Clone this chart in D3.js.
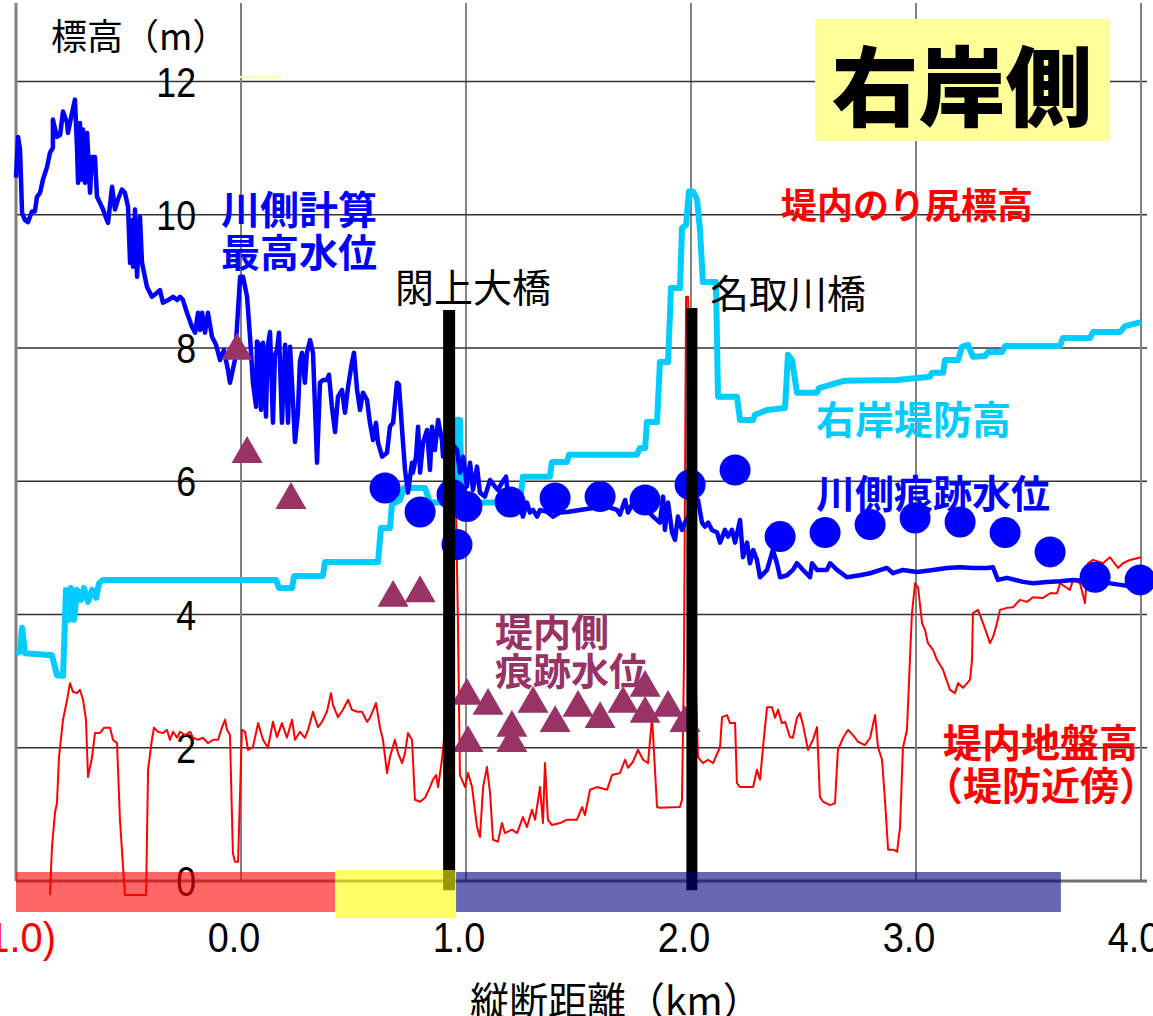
<!DOCTYPE html>
<html>
<head>
<meta charset="utf-8">
<script src="https://cdn.jsdelivr.net/npm/d3@7"></script>
<style>
  body { margin: 0; background: #fff; }
  svg { display: block; }
</style>
</head>
<body>
<div id="chart"></div>
<script>
// 右岸堤防高 [km, m]
var leveeHeight = [
  [-1.000, 3.42], [-0.982, 3.44], [-0.973, 3.80], [-0.960, 3.42], [-0.840, 3.39], [-0.818, 3.09],
  [-0.791, 3.08], [-0.778, 4.37], [-0.764, 3.92], [-0.756, 4.40], [-0.742, 3.92], [-0.729, 4.37],
  [-0.711, 4.22], [-0.698, 4.40], [-0.680, 4.19], [-0.662, 4.37], [-0.644, 4.25], [-0.631, 4.47],
  [-0.613, 4.52], [0.156, 4.52], [0.169, 4.40], [0.227, 4.40], [0.236, 4.58], [0.364, 4.58],
  [0.373, 4.79], [0.609, 4.79], [0.622, 5.30], [0.662, 5.30], [0.671, 5.65], [0.707, 5.72],
  [0.724, 5.90], [0.818, 5.90], [0.840, 5.68], [0.951, 5.68], [0.960, 6.92], [0.973, 6.92],
  [0.982, 5.68], [1.240, 5.68], [1.253, 6.07], [1.373, 6.07], [1.382, 6.29], [1.449, 6.29],
  [1.458, 6.40], [1.760, 6.40], [1.773, 6.50], [1.796, 6.50], [1.804, 6.89], [1.849, 6.89],
  [1.862, 7.79], [1.898, 7.79], [1.911, 8.90], [1.951, 8.90], [1.960, 9.80], [1.978, 9.85],
  [1.991, 10.35], [2.009, 10.35], [2.027, 10.23], [2.040, 9.77], [2.053, 8.99], [2.111, 8.99],
  [2.120, 7.27], [2.204, 7.27], [2.218, 6.92], [2.276, 6.92], [2.284, 7.00], [2.338, 7.07],
  [2.418, 7.10], [2.431, 7.90], [2.449, 7.82], [2.471, 7.33], [2.560, 7.33], [2.569, 7.40],
  [2.684, 7.51], [2.916, 7.52], [3.062, 7.57], [3.071, 7.63], [3.120, 7.63], [3.129, 7.82],
  [3.187, 7.82], [3.204, 8.02], [3.231, 8.05], [3.253, 7.87], [3.307, 7.88], [3.320, 7.94],
  [3.382, 7.94], [3.396, 8.03], [3.640, 8.03], [3.653, 8.15], [3.773, 8.15], [3.787, 8.24],
  [3.907, 8.24], [3.929, 8.33], [4.000, 8.39]
];

// 川側計算最高水位 [km, m]
var calcMaxWater = [
  [-1.000, 10.56], [-0.991, 11.17], [-0.982, 10.98], [-0.973, 10.03], [-0.960, 9.92], [-0.947, 9.89],
  [-0.929, 10.05], [-0.916, 10.05], [-0.907, 10.27], [-0.893, 10.33], [-0.880, 10.53], [-0.862, 10.72],
  [-0.849, 10.93], [-0.836, 11.01], [-0.836, 11.43], [-0.818, 11.17], [-0.804, 11.20], [-0.791, 11.55],
  [-0.773, 11.38], [-0.769, 11.23], [-0.751, 11.53], [-0.738, 11.73], [-0.729, 11.02], [-0.724, 10.48],
  [-0.716, 11.38], [-0.707, 10.53], [-0.702, 11.28], [-0.693, 10.48], [-0.684, 11.23], [-0.671, 10.33],
  [-0.662, 10.87], [-0.649, 10.87], [-0.640, 10.27], [-0.627, 10.18], [-0.613, 10.08], [-0.596, 9.92],
  [-0.591, 9.88], [-0.573, 10.42], [-0.560, 10.08], [-0.547, 10.23], [-0.529, 10.38], [-0.516, 10.33],
  [-0.502, 10.12], [-0.493, 9.28], [-0.484, 9.92], [-0.480, 9.22], [-0.471, 10.08], [-0.462, 9.07],
  [-0.449, 9.97], [-0.440, 9.28], [-0.418, 8.92], [-0.396, 8.77], [-0.373, 8.83], [-0.360, 8.87],
  [-0.347, 8.68], [-0.324, 8.72], [-0.302, 8.77], [-0.284, 8.72], [-0.271, 8.77], [-0.258, 8.72],
  [-0.240, 8.53], [-0.218, 8.32], [-0.204, 8.23], [-0.191, 8.53], [-0.182, 8.27], [-0.173, 8.53],
  [-0.160, 8.23], [-0.147, 8.53], [-0.129, 8.17], [-0.111, 8.05], [-0.093, 7.82], [-0.076, 7.97],
  [-0.058, 7.67], [-0.049, 7.48], [-0.027, 7.82], [-0.004, 9.07], [0.009, 9.07], [0.027, 8.77],
  [0.040, 8.17], [0.053, 7.48], [0.067, 7.12], [0.071, 8.10], [0.076, 8.08], [0.089, 7.07],
  [0.093, 8.05], [0.098, 8.08], [0.111, 6.97], [0.118, 8.00], [0.129, 8.24], [0.142, 6.88],
  [0.151, 7.90], [0.160, 7.97], [0.169, 8.23], [0.182, 6.88], [0.196, 8.05], [0.209, 6.88],
  [0.218, 8.02], [0.231, 7.20], [0.240, 6.59], [0.253, 7.03], [0.262, 7.80], [0.271, 7.93],
  [0.284, 7.48], [0.293, 7.93], [0.307, 8.12], [0.320, 7.93], [0.338, 6.28], [0.351, 7.48],
  [0.364, 7.52], [0.382, 7.52], [0.391, 7.60], [0.404, 7.12], [0.418, 6.74], [0.431, 7.27],
  [0.449, 7.37], [0.462, 7.03], [0.476, 7.42], [0.493, 7.78], [0.502, 7.93], [0.516, 7.37],
  [0.529, 7.07], [0.542, 7.33], [0.560, 7.22], [0.573, 6.88], [0.587, 6.62], [0.600, 6.88],
  [0.609, 6.58], [0.627, 6.37], [0.649, 6.43], [0.662, 6.82], [0.676, 6.88], [0.693, 7.48],
  [0.702, 7.45], [0.716, 6.77], [0.729, 6.17], [0.742, 5.83], [0.760, 6.28], [0.764, 6.13],
  [0.778, 6.37], [0.787, 6.82], [0.796, 6.13], [0.809, 6.58], [0.827, 6.77], [0.840, 6.17],
  [0.849, 6.82], [0.862, 6.47], [0.876, 6.92], [0.893, 6.62], [0.898, 6.37], [0.924, 6.62],
  [0.960, 6.47], [0.973, 6.13], [0.987, 6.37], [1.004, 5.92], [1.018, 6.28], [1.031, 5.87],
  [1.049, 6.22], [1.062, 5.83], [1.084, 5.77], [1.107, 6.02], [1.129, 5.92], [1.142, 5.87],
  [1.160, 5.98], [1.178, 6.07], [1.187, 5.77], [1.204, 5.75], [1.227, 5.72], [1.240, 5.65],
  [1.253, 5.47], [1.271, 5.68], [1.284, 5.53], [1.298, 5.57], [1.316, 5.47], [1.329, 5.57],
  [1.360, 5.54], [1.387, 5.47], [1.418, 5.53], [1.449, 5.54], [1.507, 5.57], [1.564, 5.60],
  [1.627, 5.62], [1.671, 5.57], [1.684, 5.50], [1.707, 5.72], [1.720, 5.53], [1.742, 5.68],
  [1.773, 5.62], [1.804, 5.57], [1.831, 5.47], [1.862, 5.38], [1.876, 5.77], [1.884, 5.27],
  [1.898, 5.68], [1.916, 5.23], [1.929, 5.12], [1.942, 5.47], [1.960, 5.27], [1.973, 5.38],
  [2.004, 5.57], [2.031, 5.72], [2.049, 5.38], [2.062, 5.32], [2.076, 5.38], [2.093, 5.27],
  [2.116, 5.23], [2.129, 5.08], [2.151, 5.27], [2.164, 5.17], [2.182, 5.27], [2.196, 5.08],
  [2.218, 5.42], [2.231, 4.86], [2.249, 5.08], [2.262, 4.77], [2.276, 4.97], [2.293, 4.82],
  [2.307, 4.56], [2.338, 4.67], [2.364, 4.97], [2.382, 4.77], [2.396, 4.56], [2.427, 4.59],
  [2.453, 4.67], [2.471, 4.77], [2.498, 4.67], [2.529, 4.56], [2.538, 4.77], [2.560, 4.67],
  [2.604, 4.67], [2.618, 4.77], [2.649, 4.67], [2.693, 4.56], [2.751, 4.59], [2.796, 4.62],
  [2.871, 4.70], [2.898, 4.62], [2.942, 4.67], [3.004, 4.64], [3.076, 4.67], [3.138, 4.70],
  [3.196, 4.71], [3.253, 4.70], [3.316, 4.70], [3.342, 4.71], [3.364, 4.52], [3.404, 4.55],
  [3.476, 4.49], [3.520, 4.47], [3.582, 4.49], [3.640, 4.50], [3.698, 4.52], [3.818, 4.49],
  [4.000, 4.40]
];

// 堤内地盤高（堤防近傍） [km, m]
var groundHeight = [
  [-0.849, -0.21], [-0.840, 0.51], [-0.827, 1.02], [-0.818, 1.17], [-0.809, 1.86], [-0.791, 2.42],
  [-0.773, 2.72], [-0.760, 2.97], [-0.747, 2.84], [-0.729, 2.82], [-0.716, 2.87], [-0.702, 2.72],
  [-0.689, 2.42], [-0.680, 1.56], [-0.662, 1.86], [-0.649, 2.22], [-0.627, 2.22], [-0.609, 2.30],
  [-0.582, 2.30], [-0.569, 2.12], [-0.551, 2.07], [-0.538, 0.92], [-0.516, -0.21], [-0.422, -0.21],
  [-0.413, 1.67], [-0.396, 2.12], [-0.387, 2.30], [-0.369, 2.24], [-0.347, 2.22], [-0.329, 2.27],
  [-0.316, 2.12], [-0.302, 2.24], [-0.284, 2.15], [-0.271, 2.24], [-0.249, 2.19], [-0.227, 2.24],
  [-0.213, 2.15], [-0.191, 2.12], [-0.169, 2.15], [-0.147, 2.07], [-0.124, 2.12], [-0.102, 2.12],
  [-0.084, 2.31], [-0.071, 2.42], [-0.062, 2.27], [-0.049, 2.19], [-0.036, 0.42], [-0.027, 0.29],
  [-0.013, 0.29], [0.004, 2.27], [0.018, 2.24], [0.031, 1.97], [0.053, 2.01], [0.076, 2.37],
  [0.098, 2.12], [0.120, 2.00], [0.142, 2.39], [0.160, 2.16], [0.182, 2.37], [0.204, 2.15],
  [0.227, 2.42], [0.240, 2.12], [0.262, 2.24], [0.284, 2.15], [0.298, 2.27], [0.320, 2.54],
  [0.342, 2.31], [0.360, 2.39], [0.382, 2.54], [0.400, 2.82], [0.409, 2.64], [0.431, 2.46],
  [0.453, 2.57], [0.476, 2.72], [0.493, 2.57], [0.516, 2.54], [0.538, 2.54], [0.560, 2.39],
  [0.573, 2.45], [0.600, 2.67], [0.618, 2.30], [0.631, 2.12], [0.649, 1.62], [0.662, 1.86],
  [0.684, 2.12], [0.698, 1.92], [0.716, 1.77], [0.729, 1.92], [0.742, 2.22], [0.760, 2.12],
  [0.773, 1.22], [0.796, 1.19], [0.818, 1.25], [0.840, 1.41], [0.853, 1.52], [0.867, 1.59],
  [0.876, 1.41], [0.893, 1.82], [0.902, 2.12], [0.920, 3.92], [0.938, 5.57], [0.956, 5.50],
  [0.964, 3.92], [0.973, 1.59], [0.996, 1.41], [1.009, 1.62], [1.027, 1.41], [1.049, 0.81],
  [1.062, 0.66], [1.076, 1.41], [1.093, 1.71], [1.107, 1.32], [1.120, 0.62], [1.142, 0.59],
  [1.160, 0.87], [1.173, 0.72], [1.204, 0.77], [1.227, 0.72], [1.253, 0.96], [1.271, 0.81],
  [1.293, 1.07], [1.307, 0.92], [1.329, 1.41], [1.342, 0.87], [1.351, 1.77], [1.364, 0.92],
  [1.382, 0.84], [1.418, 0.87], [1.449, 0.92], [1.493, 0.92], [1.516, 1.11], [1.529, 0.99],
  [1.551, 1.37], [1.582, 1.41], [1.627, 1.37], [1.649, 1.59], [1.684, 1.62], [1.707, 1.82],
  [1.720, 1.70], [1.742, 1.79], [1.764, 1.97], [1.787, 1.82], [1.809, 1.77], [1.827, 2.46],
  [1.849, 1.11], [1.862, 1.10], [1.951, 1.11], [1.960, 1.22], [1.969, 3.32], [1.978, 8.77],
  [1.987, 8.77], [2.004, 5.72], [2.018, 3.32], [2.031, 1.86], [2.053, 1.77], [2.076, 1.82],
  [2.098, 1.77], [2.129, 2.01], [2.138, 2.46], [2.160, 2.49], [2.173, 2.37], [2.196, 2.37],
  [2.204, 1.47], [2.218, 1.41], [2.276, 1.41], [2.293, 1.67], [2.307, 1.52], [2.320, 2.01],
  [2.338, 2.61], [2.360, 2.61], [2.373, 2.45], [2.387, 2.57], [2.404, 2.37], [2.418, 2.39],
  [2.440, 2.16], [2.453, 2.15], [2.471, 2.45], [2.484, 2.52], [2.498, 2.34], [2.520, 1.97],
  [2.542, 2.12], [2.560, 2.31], [2.573, 1.26], [2.587, 1.19], [2.618, 1.14], [2.640, 1.17],
  [2.653, 1.97], [2.676, 2.15], [2.698, 2.27], [2.720, 2.19], [2.742, 2.09], [2.773, 2.04],
  [2.796, 2.15], [2.818, 2.49], [2.831, 2.01], [2.849, 1.82], [2.862, 1.22], [2.876, 0.47],
  [2.898, 0.47], [2.916, 0.44], [2.929, 0.81], [2.942, 2.00], [2.960, 2.27], [2.973, 3.32],
  [2.982, 4.02], [2.996, 4.47], [3.009, 4.41], [3.027, 3.87], [3.040, 3.77], [3.053, 3.57],
  [3.076, 3.47], [3.093, 3.32], [3.120, 3.17], [3.151, 2.87], [3.173, 2.82], [3.187, 2.97],
  [3.209, 2.90], [3.240, 3.02], [3.249, 3.32], [3.253, 4.02], [3.276, 4.07], [3.298, 3.87],
  [3.329, 3.57], [3.342, 3.66], [3.360, 3.87], [3.373, 4.07], [3.404, 4.10], [3.431, 4.11],
  [3.462, 4.22], [3.493, 4.19], [3.520, 4.26], [3.564, 4.25], [3.596, 4.32], [3.627, 4.32],
  [3.640, 4.47], [3.684, 4.37], [3.698, 4.52], [3.729, 4.47], [3.751, 4.17], [3.764, 4.77],
  [3.787, 4.82], [3.831, 4.77], [3.862, 4.86], [3.898, 4.70], [3.920, 4.77], [3.951, 4.82],
  [4.000, 4.86]
];

// 川側痕跡水位 [km, m]
var riverTraceMarks = [
  [0.640, 5.90], [0.796, 5.54], [0.938, 5.80], [0.960, 5.05], [1.004, 5.62], [1.196, 5.69],
  [1.396, 5.75], [1.596, 5.77], [1.796, 5.72], [1.996, 5.95], [2.196, 6.17], [2.396, 5.17],
  [2.596, 5.23], [2.796, 5.35], [2.996, 5.45], [3.196, 5.39], [3.396, 5.23], [3.596, 4.94],
  [3.796, 4.56], [3.996, 4.52]
];

// 堤内側痕跡水位 [km, m]
var innerTraceMarks = [
  [-0.018, 7.96], [0.027, 6.41], [0.222, 5.72], [0.676, 4.25], [0.796, 4.32], [1.009, 2.07],
  [1.004, 2.78], [1.098, 2.63], [1.204, 2.30], [1.204, 2.07], [1.298, 2.66], [1.396, 2.37],
  [1.498, 2.60], [1.596, 2.43], [1.698, 2.66], [1.796, 2.90], [1.796, 2.51], [1.898, 2.60],
  [1.973, 2.37]
];

// 橋 (km, 上端 m)
var bridgeNames = ['閖上大橋', '名取川橋'];
var bridgeKm = [0.925, 2.004];
var bridgeTop = [8.57, 8.60];

// 下部の区間帯 (km)
var bandFrom = [-1.0, 0.418, 0.956];
var bandTo = [0.418, 0.956, 3.644];

var yTicks = [0, 2, 4, 6, 8, 10, 12];
var xTicks = [-1, 0, 1, 2, 3, 4];
var xTickLabels = ['(-1.0)', '0.0', '1.0', '2.0', '3.0', '4.0'];

var width = 1153, height = 1016;
var yTop = 13.18, yBottom = -0.14;

var x = d3.scaleLinear().domain([-1, 4]).range([16, 1141]);
var y = d3.scaleLinear().domain([0, 12]).range([881, 81.6]);

var svg = d3.select('#chart').append('svg');
svg.attr('xmlns', 'http://www.w3.org/2000/svg');
svg.attr('width', width);
svg.attr('height', height);

var bg = svg.append('rect');
bg.attr('width', width);
bg.attr('height', height);
bg.attr('fill', '#ffffff');

// grid
var grid = svg.append('g');
yTicks.filter(function (v) { return v > 0; }).forEach(function (v) {
    grid.append('line')
        .attr('x1', x(-1)).attr('x2', x(4) + 6)
        .attr('y1', y(v)).attr('y2', y(v))
        .attr('stroke', '#333333').attr('stroke-width', 1.5);
});
xTicks.filter(function (v) { return v > -1 && v < 4; }).forEach(function (v, i) {
    grid.append('line')
        .attr('x1', x(v)).attr('x2', x(v))
        .attr('y1', y(yTop)).attr('y2', y(0))
        .attr('stroke', i % 3 === 0 ? '#808080' : '#333333')
        .attr('stroke-width', i % 3 === 0 ? 2 : 1.2);
});

// frame
var frame = svg.append('g');
frame.append('line')
    .attr('x1', x(-1)).attr('x2', x(-1)).attr('y1', y(yTop)).attr('y2', y(0))
    .attr('stroke', '#808080').attr('stroke-width', 3);
frame.append('line')
    .attr('x1', x(4)).attr('x2', x(4)).attr('y1', y(yTop)).attr('y2', y(0))
    .attr('stroke', '#808080').attr('stroke-width', 2);
frame.append('line')
    .attr('x1', x(-1)).attr('x2', x(4) + 6).attr('y1', y(0)).attr('y2', y(0))
    .attr('stroke', '#707070').attr('stroke-width', 3);

// y tick labels
var numFont = '"Liberation Sans", Arial, sans-serif';
var yLabels = svg.append('g');
yTicks.forEach(function (v) {
    yLabels.append('text')
        .attr('transform', 'translate(196,' + (y(v) + 15) + ') scale(0.85,1)')
        .attr('text-anchor', 'end')
        .attr('font-family', numFont)
        .attr('font-size', 42)
        .attr('fill', '#000')
        .text(v);
});

// x tick labels
var xLabels = svg.append('g');
xTicks.forEach(function (v, i) {
    var t = xLabels.append('text')
        .attr('font-family', numFont)
        .attr('font-size', 42)
        .attr('fill', i === 0 ? '#ff0000' : '#000')
        .text(xTickLabels[i]);
    if (i === 0) {
        t.attr('transform', 'translate(56,952) scale(0.95,1)').attr('text-anchor', 'end');
    } else {
        t.attr('transform', 'translate(' + (x(v) - 7) + ',952) scale(0.9,1)').attr('text-anchor', 'middle');
    }
});

// small yellow dash near top
svg.append('line')
    .attr('x1', x(-0.004)).attr('x2', x(0.178))
    .attr('y1', y(12.07)).attr('y2', y(12.07))
    .attr('stroke', '#ffff99').attr('stroke-width', 2);

var jpFont = '"Noto Sans CJK JP", sans-serif';

function addLabel(lines, lx, ly, lineGap, size, color, weight) {
    lines.forEach(function (s, i) {
        svg.append('text')
            .attr('x', lx).attr('y', ly + i * lineGap)
            .attr('dominant-baseline', 'central')
            .attr('font-family', jpFont)
            .attr('font-size', size)
            .attr('font-weight', weight)
            .attr('fill', color)
            .text(s);
    });
}
// 堤内側痕跡水位 label sits under the triangles
addLabel(['堤内側', '痕跡水位'], 495, 629, 39, 38, '#993366', 700);

var line = d3.line()
    .x(function (d) { return x(d[0]); })
    .y(function (d) { return y(d[1]); });

svg.append('path').datum(groundHeight)
    .attr('d', line).attr('fill', 'none')
    .attr('stroke', '#ff0000').attr('stroke-width', 2).attr('stroke-linejoin', 'round');

svg.append('path').datum(leveeHeight)
    .attr('d', line).attr('fill', 'none')
    .attr('stroke', '#00ccff').attr('stroke-width', 6).attr('stroke-linejoin', 'round');

svg.append('path').datum(calcMaxWater)
    .attr('d', line).attr('fill', 'none')
    .attr('stroke', '#0000ff').attr('stroke-width', 4.5).attr('stroke-linejoin', 'round');

svg.append('g').selectAll('circle').data(riverTraceMarks).enter().append('circle')
    .attr('cx', function (d) { return x(d[0]); })
    .attr('cy', function (d) { return y(d[1]); })
    .attr('r', 15.5)
    .attr('fill', '#0000ff');

var tri = d3.symbol().type(d3.symbolTriangle).size(416);
svg.append('g').selectAll('path').data(innerTraceMarks).enter().append('path')
    .attr('d', tri)
    .attr('transform', function (d) { return 'translate(' + x(d[0]) + ',' + y(d[1]) + ')'; })
    .attr('fill', '#993366');

// bridges
bridgeKm.forEach(function (k, i) {
    svg.append('line')
        .attr('x1', x(k)).attr('x2', x(k))
        .attr('y1', y(bridgeTop[i])).attr('y2', y(yBottom))
        .attr('stroke', '#000').attr('stroke-width', i === 0 ? 12 : 11);
});

// bottom bands
var bandColor = ['rgba(255,0,0,0.6)', 'rgba(255,255,0,0.6)', 'rgba(0,0,128,0.6)'];
var bandTopM = [0.135, 0.165, 0.135];
var bandBotM = [-0.465, -0.556, -0.465];
bandFrom.forEach(function (f, i) {
    svg.append('rect')
        .attr('x', x(f))
        .attr('y', y(bandTopM[i]))
        .attr('width', x(bandTo[i]) - x(f))
        .attr('height', y(bandBotM[i]) - y(bandTopM[i]))
        .attr('fill', bandColor[i]);
});

// labels
addLabel(['川側計算', '最高水位'], 221, 207, 43, 39, '#0000ff', 700);
addLabel([bridgeNames[0]], 395, 285, 0, 39, '#000', 400);
addLabel([bridgeNames[1]], 710, 291, 0, 39, '#000', 400);
addLabel(['堤内のり尻標高'], 781, 203, 0, 36, '#ff0000', 700);
addLabel(['右岸堤防高'], 816, 417, 0, 39, '#00ccff', 700);
addLabel(['川側痕跡水位'], 816, 491, 0, 39, '#0000ff', 700);
addLabel(['堤内地盤高'], 943, 740, 0, 39, '#ff0000', 700);
addLabel(['（堤防近傍）'], 924, 783, 0, 39, '#ff0000', 700);
addLabel(['標高（m）'], 51, 34, 0, 36, '#000', 400);
addLabel(['縦断距離（km）'], 470, 998, 0, 39, '#000', 400);

// title box
var titleBox = svg.append('rect');
titleBox.attr('x', 815).attr('y', 19).attr('width', 295).attr('height', 122).attr('fill', '#ffff99');
svg.append('text')
    .attr('x', 962).attr('y', 82)
    .attr('text-anchor', 'middle')
    .attr('dominant-baseline', 'central')
    .attr('font-family', jpFont)
    .attr('font-size', 87)
    .attr('font-weight', 900)
    .attr('fill', '#000')
    .text('右岸側');
</script>
</body>
</html>
